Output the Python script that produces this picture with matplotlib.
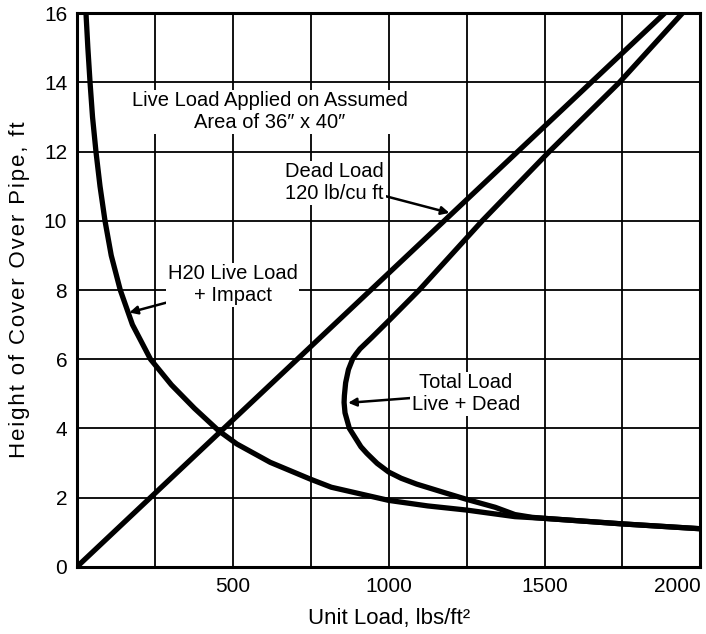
import matplotlib
matplotlib.use("Agg")
from matplotlib import pyplot as plt

# values (unit load lbs/ft2, height of cover ft)
live_x = [29, 35, 42, 50, 61, 74, 90, 110, 139, 178, 236, 303, 377, 455, 513, 620, 750, 816, 1000, 1125, 1250, 1405, 1500, 1750, 2000]
live_h = [16, 15, 14, 13, 12, 11, 10, 9, 8, 7, 6, 5.26, 4.58, 3.93, 3.55, 3.02, 2.53, 2.30, 1.92, 1.76, 1.64, 1.45, 1.40, 1.24, 1.1]

dead_x = [0, 1885]
dead_h = [0, 16]

total_x = [1942, 1740, 1515, 1300, 1098, 1010, 945, 908, 895, 885, 871, 862, 858, 857, 860, 874, 911, 930, 963, 1000, 1040, 1090, 1184, 1250, 1342, 1405, 1460, 1500, 1750, 2000]
total_h = [16, 14, 12, 10, 8, 7.2, 6.62, 6.3, 6.15, 6.02, 5.7, 5.32, 4.95, 4.75, 4.45, 4.0, 3.47, 3.28, 2.99, 2.74, 2.56, 2.39, 2.13, 1.95, 1.72, 1.51, 1.43, 1.40, 1.24, 1.1]

x_grid = [0, 250, 500, 750, 1000, 1250, 1500, 1750, 2000]
x_labels = ["", "", "500", "", "1000", "", "1500", "", "2000"]
y_ticks = [0, 2, 4, 6, 8, 10, 12, 14, 16]

plt.rcParams['font.family'] = ['Liberation Sans', 'DejaVu Sans']

fig = plt.figure(figsize=(7.06, 6.34), dpi=100)
ax = fig.add_axes([0.109, 0.106, 0.883, 0.873])

ax.set_xlim(0, 2000)
ax.set_ylim(0, 16)
ax.set_xticks(x_grid)
ax.set_xticklabels(x_labels)
ax.set_yticks(y_ticks)
ax.tick_params(length=0, labelsize=15, pad=7)
ax.get_xticklabels()[-1].set_ha("right")
ax.grid(True, color="black", linewidth=1.3)
for s in ax.spines.values():
    s.set_linewidth(2.2)

kw = dict(color="black", linewidth=3.8, solid_capstyle="round", solid_joinstyle="round")
ax.plot(live_x, live_h, **kw)
ax.plot(dead_x, dead_h, **kw)
ax.plot(total_x, total_h, **kw)

ax.set_xlabel("Unit Load, lbs/ft²", fontsize=16, labelpad=9)
ylab = "Height of Cover Over Pipe, ft"
ax.set_ylabel("\u200a".join(ylab), fontsize=16, labelpad=10)

txt = dict(fontsize=14.5, ha="center", va="center", multialignment="center",
           bbox=dict(facecolor="white", edgecolor="none", pad=1))
ax.text(619, 13.15, "Live Load Applied on Assumed\nArea of 36\u2033 x 40\u2033", **txt)

arrow = dict(arrowstyle="-|>", color="black", lw=1.8, mutation_scale=12, shrinkA=0, shrinkB=0)
ax.annotate("Dead Load\n120 lb/cu ft", xy=(1195, 10.23), xytext=(827, 11.1),
            arrowprops=arrow, **txt)
ax.annotate("H20 Live Load\n+ Impact", xy=(168, 7.35), xytext=(500, 8.15),
            arrowprops=arrow, **txt)
ax.annotate("Total Load\nLive + Dead", xy=(870, 4.74), xytext=(1247, 5.0),
            arrowprops=arrow, **txt)

fig.savefig("out.png", dpi=100)
